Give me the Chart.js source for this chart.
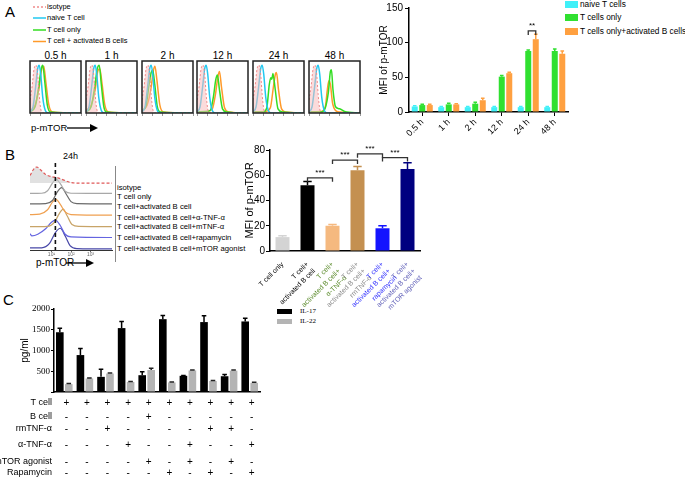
<!DOCTYPE html>
<html>
<head>
<meta charset="utf-8">
<script src="https://cdn.jsdelivr.net/npm/chart.js@4.4.0/dist/chart.umd.min.js"></script>
<style>
  body { margin: 0; background: #fff; font-family: "Liberation Sans", Arial, sans-serif; }
  #wrap { position: relative; width: 685px; height: 479px; overflow: hidden; background: #fff; }
  canvas { position: absolute; }
  .t { position: absolute; white-space: nowrap; color: #000; line-height: 1; }
  .panel { font-size: 15px; }
  .sw { position: absolute; }
</style>
</head>
<body>
<div id="wrap">
  <div class="t panel" style="left:5px;top:4px;">A</div>
  <div class="t panel" style="left:5px;top:147px;">B</div>
  <div class="t panel" style="left:3px;top:292px;">C</div>

  <!-- panel A legend -->
  <svg class="sw" style="left:32px;top:2px;" width="15" height="46">
    <line x1="1" y1="5" x2="14" y2="5" stroke="#f08a8a" stroke-width="1.3" stroke-dasharray="2,2"/>
    <line x1="1" y1="16" x2="14" y2="16" stroke="#22c8f0" stroke-width="1.5"/>
    <line x1="1" y1="28" x2="14" y2="28" stroke="#33dd22" stroke-width="1.5"/>
    <line x1="1" y1="39.5" x2="14" y2="39.5" stroke="#ff9a2a" stroke-width="1.5"/>
  </svg>
  <div class="t" style="left:47px;top:3px;font-size:7.5px;">isotype</div>
  <div class="t" style="left:47px;top:14px;font-size:7.5px;">naive T cell</div>
  <div class="t" style="left:47px;top:26px;font-size:7.5px;">T cell only</div>
  <div class="t" style="left:47px;top:37px;font-size:7.5px;">T cell + activated B cells</div>

  <div id="histTitles"></div>
  <div class="t" style="left:31px;top:123px;font-size:9.5px;">p-mTOR</div>
  <svg class="sw" style="left:66px;top:122px;" width="34" height="12">
    <line x1="1" y1="6" x2="26" y2="6" stroke="#000" stroke-width="1.3"/>
    <polygon points="24,2 32,6 24,10" fill="#000"/>
  </svg>

  <!-- panel A bar legend -->
  <div class="sw" style="left:565px;top:1px;width:13px;height:7px;background:#40f0f8;"></div>
  <div class="sw" style="left:565px;top:14px;width:13px;height:7px;background:#30e030;"></div>
  <div class="sw" style="left:565px;top:28px;width:13px;height:7px;background:#ffa040;"></div>
  <div class="t" style="left:580px;top:0px;font-size:8.3px;">naive T cells</div>
  <div class="t" style="left:580px;top:13px;font-size:8.3px;">T cells only</div>
  <div class="t" style="left:580px;top:27px;font-size:8.3px;">T cells only+activated B cells</div>

  <!-- panel B histogram texts -->
  <div class="t" style="left:63px;top:152px;font-size:9px;">24h</div>
  <div class="sw" style="left:115px;top:166px;width:0;height:96px;border-left:1px solid #888;"></div>
  <div id="histBLabels"></div>
  <div class="t" style="left:36px;top:258px;font-size:10px;">p-mTOR</div>
  <svg class="sw" style="left:66px;top:257px;" width="30" height="12">
    <line x1="0" y1="6" x2="22" y2="6" stroke="#000" stroke-width="1.3"/>
    <polygon points="20,2 28,6 20,10" fill="#000"/>
  </svg>

  <!-- panel C legend -->
  <div class="sw" style="left:277px;top:309px;width:15px;height:5px;background:#000;"></div>
  <div class="sw" style="left:277px;top:319px;width:15px;height:5px;background:#b4b4b4;"></div>
  <div class="t" style="left:300px;top:308px;font-size:7px;font-family:'Liberation Serif',serif;">IL-17</div>
  <div class="t" style="left:300px;top:318px;font-size:7px;font-family:'Liberation Serif',serif;">IL-22</div>

  <canvas id="hA0"></canvas><canvas id="hA1"></canvas><canvas id="hA2"></canvas>
  <canvas id="hA3"></canvas><canvas id="hA4"></canvas><canvas id="hA5"></canvas>
  <canvas id="barA"></canvas>
  <canvas id="histB"></canvas>
  <canvas id="barB"></canvas>
  <canvas id="barC"></canvas>
</div>

<script>
// ---------- data ----------
// panel A histograms, points are [log decade, relative count]
const timePoints = ['0.5 h', '1 h', '2 h', '12 h', '24 h', '48 h'];
const isotypeTrace = [[0, 0.25], [0.2, 0.5], [0.4, 0.85], [0.6, 0.92], [0.75, 0.75], [0.9, 0.35], [1.05, 0.08], [1.25, 0], [5, 0]];
const naiveTrace = [[0, 0.02], [0.3, 0.12], [0.55, 0.5], [0.75, 0.85], [0.9, 0.92], [1.05, 0.75], [1.25, 0.3], [1.5, 0.05], [1.8, 0], [5, 0]];
const onlyTraces = [
  [[0, 0.02], [0.5, 0.12], [0.85, 0.5], [1.1, 0.85], [1.25, 0.92], [1.45, 0.6], [1.7, 0.15], [2.0, 0.02], [5, 0]],
  [[0, 0.02], [0.5, 0.12], [0.85, 0.5], [1.1, 0.85], [1.3, 0.92], [1.5, 0.55], [1.75, 0.12], [2.0, 0.02], [5, 0]],
  [[0, 0.03], [0.4, 0.15], [0.7, 0.55], [0.9, 0.78], [1.05, 0.82], [1.25, 0.55], [1.5, 0.12], [1.8, 0.02], [5, 0]],
  [[0, 0.02], [0.8, 0.03], [1.3, 0.05], [1.6, 0.3], [1.85, 0.65], [2.0, 0.73], [2.2, 0.45], [2.5, 0.08], [2.9, 0.02], [5, 0]],
  [[0, 0.02], [1.0, 0.02], [1.35, 0.1], [1.6, 0.55], [1.75, 0.68], [1.85, 0.65], [1.95, 0.76], [2.15, 0.5], [2.45, 0.08], [2.9, 0.02], [5, 0]],
  [[0, 0.02], [1.2, 0.02], [1.6, 0.1], [1.9, 0.4], [2.1, 0.8], [2.2, 0.83], [2.35, 0.45], [2.6, 0.12], [3.0, 0.08], [3.5, 0.03], [5, 0]]
];
const withBTraces = [
  [[0, 0.05], [0.5, 0.15], [0.9, 0.5], [1.15, 0.85], [1.35, 0.9], [1.55, 0.6], [1.85, 0.15], [2.2, 0.02], [5, 0]],
  [[0, 0.05], [0.5, 0.15], [0.9, 0.45], [1.15, 0.8], [1.35, 0.85], [1.55, 0.6], [1.85, 0.15], [2.2, 0.02], [5, 0]],
  [[0, 0.05], [0.5, 0.15], [0.9, 0.5], [1.1, 0.8], [1.27, 0.9], [1.45, 0.65], [1.75, 0.15], [2.1, 0.02], [5, 0]],
  [[0, 0.02], [1.0, 0.03], [1.5, 0.08], [1.8, 0.35], [2.05, 0.7], [2.2, 0.8], [2.4, 0.5], [2.7, 0.1], [3.1, 0.02], [5, 0]],
  [[0, 0.02], [1.2, 0.03], [1.7, 0.1], [2.0, 0.5], [2.2, 0.75], [2.3, 0.78], [2.5, 0.45], [2.8, 0.08], [3.2, 0.02], [5, 0]],
  [[0, 0.02], [1.2, 0.03], [1.6, 0.12], [1.8, 0.45], [1.95, 0.62], [2.1, 0.55], [2.3, 0.2], [2.6, 0.05], [3.0, 0.02], [5, 0]]
];

// panel A bars
const mfiNaive = [8, 7, 7, 7, 7, 7];
const mfiOnly = [10, 11, 12, 51, 88, 88];
const mfiWithB = [10, 11, 17, 56, 105, 84];
const errNaive = [1, 1, 1, 1, 1, 1];
const errOnly = [1, 1.5, 2, 1.5, 1.5, 3];
const errWithB = [1, 1, 3, 1.5, 7, 4];
const sigA = [[4, 1, 2, 117, '**']]; // category, dataset a, dataset b, bracket height, stars

// panel B histogram (offset traces)
const histBLabels = ['isotype', 'T cell only', 'T cell+activated B cell', 'T cell+activated B cell+α-TNF-α',
  'T cell+activated B cell+mTNF-α', 'T cell+activated B cell+rapamycin', 'T cell+activated B cell+mTOR agonist'];
const histBOffsets = [6.15, 5.2, 4.25, 3.2, 2.15, 1.15, 0.1];
const histBTraces = [
  [[-0.1, 0.7], [0.1, 1.3], [0.25, 1.48], [0.45, 1.2], [0.7, 0.8], [1.0, 0.6], [1.3, 0.5], [1.6, 0.3], [2.0, 0.05], [2.5, 0], [4.1, 0]],
  [[-0.1, 0], [0.5, 0.02], [0.8, 0.25], [1.05, 0.95], [1.23, 1.32], [1.45, 0.9], [1.7, 0.2], [2.0, 0.02], [4.1, 0]],
  [[-0.1, 0], [0.7, 0.02], [1.05, 0.3], [1.3, 1.1], [1.52, 1.48], [1.75, 0.9], [2.0, 0.2], [2.3, 0.02], [4.1, 0]],
  [[-0.1, 0.05], [0.4, 0.1], [0.8, 0.5], [1.05, 1.2], [1.23, 1.45], [1.45, 1.0], [1.7, 0.3], [2.0, 0.05], [4.1, 0]],
  [[-0.1, 0], [0.8, 0.03], [1.15, 0.4], [1.4, 1.2], [1.6, 1.6], [1.8, 1.0], [2.05, 0.2], [2.4, 0.02], [4.1, 0]],
  [[-0.1, 0.35], [0, 0.15], [0.3, 0.3], [0.7, 0.8], [1.0, 1.4], [1.2, 1.6], [1.45, 1.1], [1.7, 0.3], [2.0, 0.05], [4.1, 0]],
  [[-0.1, 0.1], [0.5, 0.1], [0.9, 0.5], [1.2, 1.5], [1.45, 1.9], [1.7, 1.2], [1.95, 0.3], [2.3, 0.03], [4.1, 0]]
];
const histBColors = ['#e05858', '#a8a8a8', '#6a6a6a', '#f0a050', '#c8a468', '#6464e0', '#4848a8'];
const gateB = 1.2;
const decadeLabels = ['10⁰', '10¹', '10²', '10³', '10⁴'];

// panel B bars
const groupsB = [
  'T cell only',
  ['T cell+', 'activated B cell'],
  ['T cell+', 'activated B cell+', 'α-TNF-α'],
  ['T cell+', 'activated B cell+', 'rmTNF-α'],
  ['T cell+', 'activated B cell+', 'rapamycin'],
  ['T cell+', 'activated B cell+', 'mTOR agonist']
];
const mfiB = [11, 52, 20, 64, 18, 65];
const errB = [1, 3, 1, 3, 2, 5];
const sigB = [[1, 2, 58, '***'], [2, 3, 72, '***'], [3, 4, 77, '***'], [4, 5, 74, '***']];

// panel C
const colsC = ['1', '2', '3', '4', '5', '6', '7', '8', '9', '10'];
const il17 = [1440, 890, 365, 1540, 405, 1755, 390, 1685, 380, 1700];
const il22 = [190, 325, 445, 243, 530, 230, 520, 265, 515, 220];
const err17 = [95, 160, 185, 160, 80, 90, 10, 150, 40, 80];
const err22 = [12, 15, 12, 12, 40, 10, 12, 12, 15, 15];
const tableRows = ['T cell', 'B cell', 'rmTNF-α', 'α-TNF-α', 'mTOR agonist', 'Rapamycin'];
const tCellSigns = ['+', '+', '+', '+', '+', '+', '+', '+', '+', '+'];
const bCellSigns = ['-', '-', '-', '-', '+', '-', '-', '-', '-', '-'];
const rmTnfSigns = ['-', '-', '+', '-', '-', '-', '-', '+', '+', '-'];
const antiTnfSigns = ['-', '-', '-', '+', '-', '-', '+', '-', '-', '+'];
const agonistSigns = ['-', '-', '-', '-', '+', '-', '+', '-', '+', '-'];
const rapaSigns = ['-', '-', '-', '-', '-', '+', '-', '+', '-', '+'];
const tableSigns = [tCellSigns, bCellSigns, rmTnfSigns, antiTnfSigns, agonistSigns, rapaSigns];

// ---------- helpers ----------
Chart.defaults.font.family = '"Liberation Sans", Arial, sans-serif';
Chart.defaults.color = '#000';

function place(id, left, top, w, h) {
  const c = document.getElementById(id);
  c.width = w; c.height = h;
  c.style.left = left + 'px'; c.style.top = top + 'px';
  return c.getContext('2d');
}

const frame = {
  id: 'frame',
  afterDraw(chart) {
    const a = chart.chartArea, ctx = chart.ctx;
    ctx.save();
    ctx.strokeStyle = '#222'; ctx.lineWidth = 1.5;
    ctx.strokeRect(a.left, a.top, a.right - a.left, a.bottom - a.top);
    ctx.restore();
  }
};

const errorBars = {
  id: 'errorBars',
  afterDatasetsDraw(chart) {
    const ctx = chart.ctx, y = chart.scales.y;
    chart.data.datasets.forEach((ds, di) => {
      if (!ds.errors) return;
      chart.getDatasetMeta(di).data.forEach((bar, i) => {
        const top = y.getPixelForValue(ds.data[i] + ds.errors[i]);
        const col = ds.errorColor || (Array.isArray(ds.backgroundColor) ? ds.backgroundColor[i] : ds.backgroundColor);
        const cap = bar.width * 0.3;
        ctx.save();
        ctx.strokeStyle = col; ctx.lineWidth = 1.5;
        ctx.beginPath();
        ctx.moveTo(bar.x, bar.y); ctx.lineTo(bar.x, top);
        ctx.moveTo(bar.x - cap, top); ctx.lineTo(bar.x + cap, top);
        ctx.stroke();
        ctx.restore();
      });
    });
  }
};

// bracket between two bar centres at a given value
function drawBracket(chart, xa, xb, v, txt) {
  const ctx = chart.ctx, yy = chart.scales.y.getPixelForValue(v);
  ctx.save();
  ctx.strokeStyle = '#333'; ctx.lineWidth = 1.3;
  ctx.beginPath();
  ctx.moveTo(xa, yy + 4); ctx.lineTo(xa, yy); ctx.lineTo(xb, yy); ctx.lineTo(xb, yy + 4);
  ctx.stroke();
  ctx.fillStyle = '#000'; ctx.font = '8px "Liberation Sans", Arial';
  ctx.textAlign = 'center'; ctx.textBaseline = 'bottom';
  ctx.fillText(txt, (xa + xb) / 2, yy - 1);
  ctx.restore();
}

// ---------- panel A histograms ----------
const boxLefts = [30, 86, 142, 197, 253, 309];
let titles = '';
timePoints.forEach((tp, k) => {
  titles += `<div class="t" style="left:${boxLefts[k]}px;width:51px;text-align:center;top:51px;font-size:10px;">${tp}</div>`;
  const ctx = place('hA' + k, boxLefts[k] - 2, 59, 55, 60);
  new Chart(ctx, {
    type: 'line',
    data: {
      datasets: [
        { data: isotypeTrace, borderColor: '#f08a8a', borderDash: [2, 2], borderWidth: 1,
          backgroundColor: 'rgba(250,190,190,0.55)', fill: 'origin' },
        { data: naiveTrace, borderColor: '#22c8f0', borderWidth: 1.5, fill: false },
        { data: onlyTraces[k], borderColor: '#33dd22', borderWidth: 1.5, fill: false },
        { data: withBTraces[k], borderColor: '#ff9a2a', borderWidth: 1.5, fill: false }
      ]
    },
    options: {
      responsive: false, animation: false,
      layout: { padding: { left: 2, right: 2, top: 2, bottom: 0 } },
      elements: { point: { radius: 0 }, line: { tension: 0.4, cubicInterpolationMode: 'monotone' } },
      plugins: { legend: { display: false }, tooltip: { enabled: false } },
      scales: {
        x: { type: 'linear', min: 0, max: 5,
          ticks: { stepSize: 1, display: false },
          grid: { drawOnChartArea: false, tickLength: 3, color: '#999' },
          border: { display: false },
          afterFit(s) { s.height = 6; } },
        y: { min: 0, max: 1, display: false }
      }
    },
    plugins: [frame]
  });
});
document.getElementById('histTitles').innerHTML = titles;

// ---------- panel A bars ----------
new Chart(place('barA', 360, 0, 325, 140), {
  type: 'bar',
  data: {
    labels: timePoints,
    datasets: [
      { label: 'naive T cells', data: mfiNaive, errors: errNaive, backgroundColor: '#40f0f8' },
      { label: 'T cells only', data: mfiOnly, errors: errOnly, backgroundColor: '#30e030' },
      { label: 'T cells only+activated B cells', data: mfiWithB, errors: errWithB, backgroundColor: '#ffa040' }
    ]
  },
  options: {
    responsive: false, animation: false,
    layout: { padding: { left: 16, right: 117, top: 7, bottom: 0 } },
    datasets: { bar: { categoryPercentage: 0.85, barPercentage: 0.8 } },
    plugins: { legend: { display: false }, tooltip: { enabled: false } },
    scales: {
      x: {
        ticks: { minRotation: 45, maxRotation: 45, autoSkip: false, font: { size: 9 }, padding: 1 },
        grid: { drawOnChartArea: false, offset: false, tickLength: 4, color: '#000' },
        border: { color: '#000', width: 1.5 },
        afterFit(s) { s.height = 28; }
      },
      y: {
        min: 0, max: 150,
        ticks: { stepSize: 50, font: { size: 10 }, padding: 2 },
        grid: { drawOnChartArea: false, tickLength: 4, color: '#000' },
        border: { color: '#000', width: 1.5 },
        title: { display: true, text: 'MFI of p-mTOR', font: { size: 10 }, padding: 2 },
        afterFit(s) { s.width = 33; }
      }
    }
  },
  plugins: [errorBars, {
    id: 'sigA',
    afterDatasetsDraw(chart) {
      sigA.forEach(([cat, da, db, v, txt]) => {
        drawBracket(chart, chart.getDatasetMeta(da).data[cat].x, chart.getDatasetMeta(db).data[cat].x, v, txt);
      });
    }
  }]
});

// ---------- panel B histogram ----------
let lbl = '';
const labelTops = [183.5, 192.5, 202.5, 213.5, 222.5, 233.5, 245];
histBLabels.forEach((t, i) => {
  lbl += `<div class="t" style="left:117px;top:${labelTops[i]}px;font-size:7.7px;">${t}</div>`;
});
document.getElementById('histBLabels').innerHTML = lbl;

new Chart(place('histB', 25, 155, 92, 105), {
  type: 'line',
  data: {
    datasets: histBTraces.map((tr, i) => ({
      data: tr.map(p => [p[0], p[1] + histBOffsets[i]]),
      borderColor: histBColors[i],
      borderWidth: 1.2,
      borderDash: i === 0 ? [3, 2] : [],
      backgroundColor: i === 0 ? 'rgba(200,200,200,0.55)' : 'transparent',
      fill: i === 0 ? { value: histBOffsets[i] } : false
    }))
  },
  options: {
    responsive: false, animation: false,
    layout: { padding: { left: 5, right: 5, top: 8, bottom: 0 } },
    elements: { point: { radius: 0 }, line: { tension: 0.4, cubicInterpolationMode: 'monotone' } },
    plugins: { legend: { display: false }, tooltip: { enabled: false } },
    scales: {
      x: {
        type: 'linear', min: -0.1, max: 4.1,
        ticks: { stepSize: 1, font: { size: 5 }, color: '#666', padding: 0, maxRotation: 0,
          callback: v => decadeLabels[v] },
        grid: { drawOnChartArea: false, tickLength: 2, color: '#666' },
        border: { color: '#333', width: 1 },
        afterFit(s) { s.height = 10; }
      },
      y: { min: 0, max: 8, display: false }
    }
  },
  plugins: [{
    id: 'gate',
    afterDatasetsDraw(chart) {
      const ctx = chart.ctx, x = chart.scales.x.getPixelForValue(gateB), a = chart.chartArea;
      ctx.save();
      ctx.strokeStyle = '#111'; ctx.lineWidth = 1.6; ctx.setLineDash([4, 3]);
      ctx.beginPath(); ctx.moveTo(x, a.top); ctx.lineTo(x, a.bottom); ctx.stroke();
      ctx.restore();
    }
  }]
});

// ---------- panel B bars ----------
const colorsB = ['#d4d4d4', '#000000', '#f5b97f', '#c49050', '#1414ff', '#000080'];
const tickColorsB = ['#000', '#000', '#5a8a2a', '#8a8a8a', '#3030ff', '#6060b8'];
new Chart(place('barB', 220, 140, 215, 180), {
  type: 'bar',
  data: {
    labels: groupsB,
    datasets: [{ data: mfiB, errors: errB, backgroundColor: colorsB }]
  },
  options: {
    responsive: false, animation: false,
    layout: { padding: { left: 21, right: 15, top: 10, bottom: 0 } },
    datasets: { bar: { categoryPercentage: 1, barPercentage: 0.56 } },
    plugins: { legend: { display: false }, tooltip: { enabled: false } },
    scales: {
      x: {
        ticks: { minRotation: 45, maxRotation: 45, autoSkip: false, font: { size: 7, lineHeight: 1.35 }, padding: 1,
          color: ctx => tickColorsB[ctx.index] },
        grid: { display: false },
        border: { color: '#000', width: 1.5 },
        afterFit(s) { s.height = 69; }
      },
      y: {
        min: 0, max: 80,
        ticks: { stepSize: 20, font: { size: 10 }, padding: 1 },
        grid: { drawOnChartArea: false, tickLength: 4, color: '#000' },
        border: { color: '#000', width: 1.5 },
        title: { display: true, text: 'MFI of p-mTOR', font: { size: 11 }, padding: 2 },
        afterFit(s) { s.width = 29; }
      }
    }
  },
  plugins: [errorBars, {
    id: 'sigB',
    afterDatasetsDraw(chart) {
      const bars = chart.getDatasetMeta(0).data;
      sigB.forEach(([a, b, v, txt]) => drawBracket(chart, bars[a].x, bars[b].x, v, txt));
    }
  }]
});

// ---------- panel C ----------
const rowOffsets = [11, 25, 37, 53, 70, 81];
new Chart(place('barC', 0, 290, 270, 189), {
  type: 'bar',
  data: {
    labels: colsC,
    datasets: [
      { label: 'IL-17', data: il17, errors: err17, backgroundColor: '#000', errorColor: '#000' },
      { label: 'IL-22', data: il22, errors: err22, backgroundColor: '#b4b4b4', errorColor: '#222' }
    ]
  },
  options: {
    responsive: false, animation: false,
    layout: { padding: { left: 17, right: 10, top: 19, bottom: 0 } },
    datasets: { bar: { categoryPercentage: 0.87, barPercentage: 0.85 } },
    plugins: { legend: { display: false }, tooltip: { enabled: false } },
    scales: {
      x: {
        ticks: { display: false },
        grid: { display: false },
        border: { color: '#000', width: 1.5 },
        afterFit(s) { s.height = 87; }
      },
      y: {
        min: 0, max: 2000,
        ticks: { stepSize: 500, font: { size: 9, family: '"Liberation Serif", serif' }, padding: 1,
          callback: v => (v === 0 ? '' : v) },
        grid: { drawOnChartArea: false, tickLength: 3, color: '#000' },
        border: { color: '#000', width: 1.5 },
        title: { display: true, text: 'pg/ml', font: { size: 10 }, padding: 2 },
        afterFit(s) { s.width = 37; }
      }
    }
  },
  plugins: [errorBars, {
    id: 'table',
    afterDraw(chart) {
      const ctx = chart.ctx, x = chart.scales.x, base = chart.chartArea.bottom;
      ctx.save();
      ctx.fillStyle = '#000'; ctx.textBaseline = 'middle';
      tableRows.forEach((r, ri) => {
        const yy = base + rowOffsets[ri];
        ctx.font = '9px "Liberation Sans", Arial';
        ctx.textAlign = 'right';
        ctx.fillText(r, 52, yy);
        ctx.textAlign = 'center';
        ctx.font = '10px "Liberation Sans", Arial';
        tableSigns[ri].forEach((s, ci) => ctx.fillText(s, x.getPixelForValue(ci) + 2, yy));
      });
      ctx.restore();
    }
  }]
});
</script>
</body>
</html>
